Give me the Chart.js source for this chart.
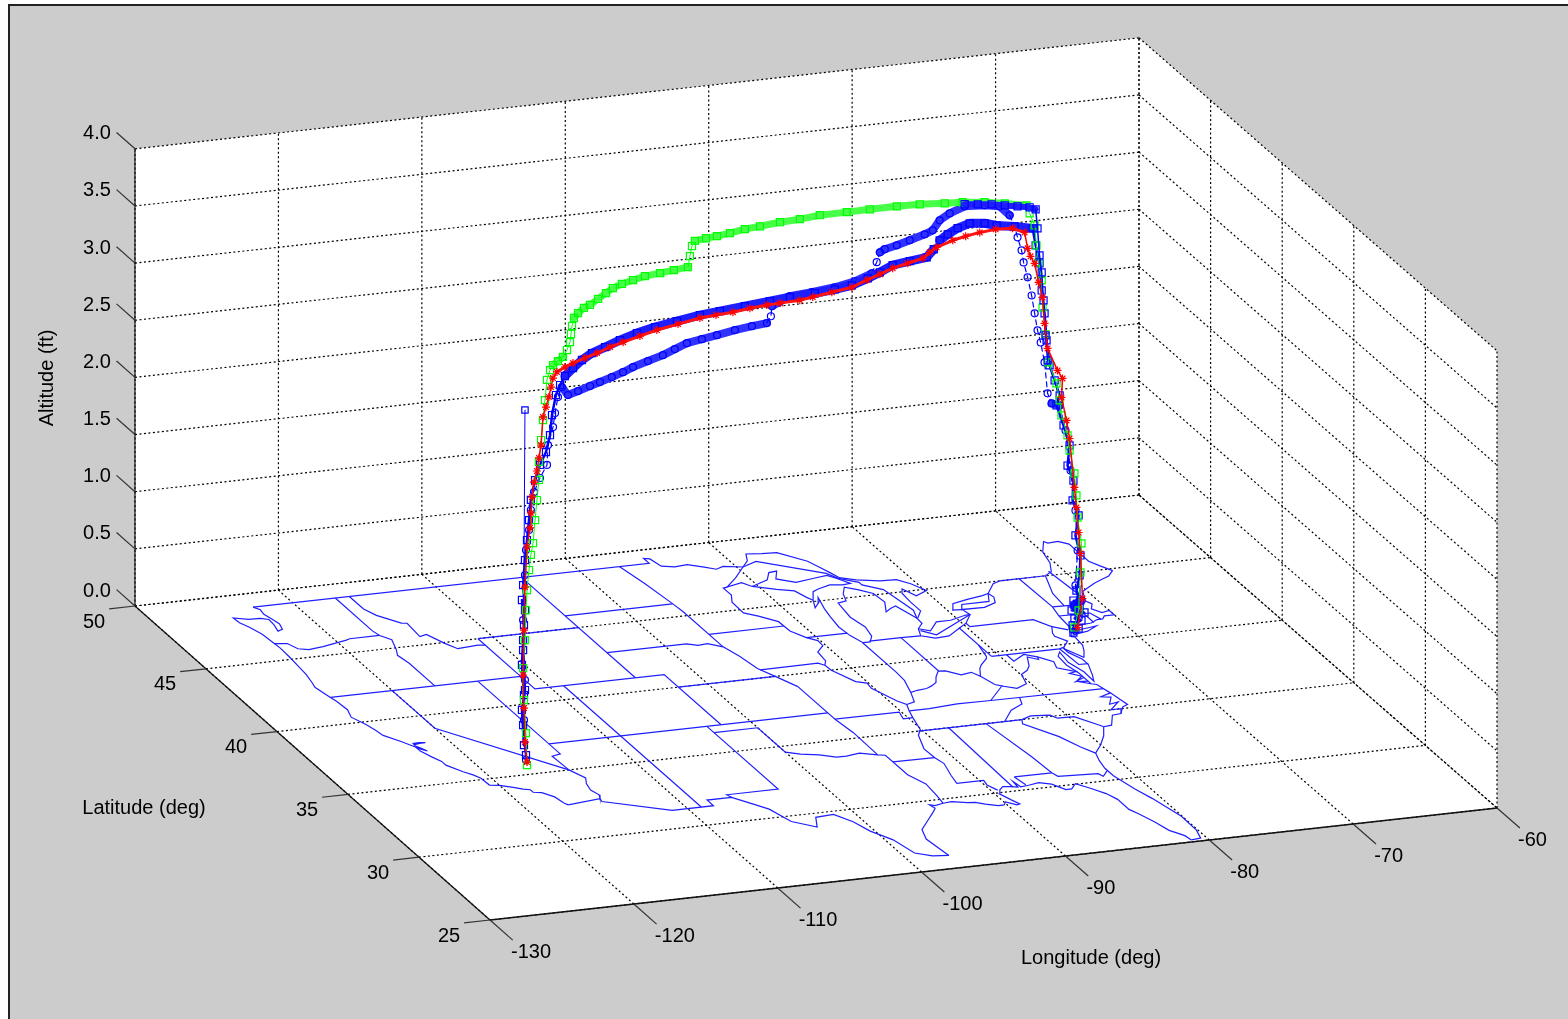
<!DOCTYPE html>
<html>
<head>
<meta charset="utf-8">
<title>Flight tracks</title>
<script src="https://cdn.jsdelivr.net/npm/chart.js@4/dist/chart.umd.js"></script>
<style>
  html, body { margin: 0; padding: 0; background: #fff; overflow: hidden; }
  #fig { position: absolute; left: 8px; top: 4px; width: 1560px; height: 1015px; background: #ccc;
         border-left: 2px solid #222; border-top: 2px solid #222; }
  #myChart { position: absolute; left: 0; top: 0; }
</style>
</head>
<body>
<div id="fig"></div>
<canvas id="myChart" width="1568" height="1019"></canvas>
<script>
// axis ticks
const lonTicks = [-130, -120, -110, -100, -90, -80, -70, -60];
const latTicks = [25, 30, 35, 40, 45, 50];
const altTicks = [0, 0.5, 1, 1.5, 2, 2.5, 3, 3.5, 4];

// flight tracks, [lon, lat, alt]
const greenTrack = [
  [-116.88,35.67,0],[-116.96,35.66,.282],[-117.12,35.64,.575],[-117.19,35.63,.857],[-117.04,35.65,1.098],
  [-116.96,35.66,1.358],[-116.88,35.67,1.531],[-116.72,35.69,1.702],[-116.57,35.71,1.83],[-116.41,35.72,1.93],
  [-116.25,35.74,2.127],[-116.1,35.76,2.298],[-115.94,35.78,2.469],[-115.94,35.78,2.627],[-115.78,35.79,2.815],
  [-115.63,35.81,2.986],[-115.47,35.83,3.156],[-115.31,35.85,3.328],[-115.08,35.87,3.408],[-114.84,35.9,3.446],
  [-114.45,35.95,3.47],[-114.06,35.99,3.496],[-113.74,36.03,3.548],[-113.51,36.05,3.612],[-113.43,36.06,3.68],
  [-113.35,36.07,3.748],[-113.2,36.09,3.814],[-112.88,36.12,3.849],[-112.41,36.18,3.881],[-111.94,36.23,3.895],
  [-111.31,36.3,3.931],[-110.69,36.37,3.966],[-110.14,36.44,3.995],[-109.43,36.52,4.012],[-108.57,36.61,4.024],
  [-107.63,36.72,4.034],[-106.45,36.85,4.029],[-105.36,36.98,4.026],[-104.26,37.1,4.023],[-104.1,37.12,4.115],
  [-103.94,37.14,4.199],[-103.71,37.17,4.237],[-102.85,37.26,4.239],[-101.98,37.36,4.234],[-100.96,37.48,4.233],
  [-99.79,37.61,4.238],[-98.61,37.74,4.232],[-97.04,37.92,4.226],[-95.48,38.1,4.211],[-93.91,38.28,4.204],
  [-91.79,38.52,4.175],[-89.99,38.72,4.153],[-87.87,38.96,4.123],[-86.07,39.17,4.093],[-84.11,39.39,4.05],
  [-82.7,39.55,4.022],[-80.97,39.75,3.976],[-79.4,39.92,3.925],[-77.68,40.12,3.862],[-77.44,40.15,3.786],
  [-77.05,40.19,3.671],[-76.9,40.21,3.491],[-76.74,40.23,3.339],[-76.5,40.25,3.175],[-76.43,40.26,2.937],
  [-76.19,40.29,2.694],[-75.96,40.32,2.443],[-75.33,40.39,2.243],[-75.09,40.41,2.088],[-74.94,40.43,1.952],
  [-74.47,40.48,1.765],[-74.31,40.5,1.629],[-73.92,40.55,1.418],[-73.76,40.57,1.221],[-73.68,40.57,1.026],
  [-73.37,40.61,.791],[-73.45,40.6,.539],[-73.6,40.58,.211],[-73.92,40.55,.07]
];
const redTrack = [
  [-116.88,35.67,.026],[-117.04,35.65,.206],[-117.12,35.64,.505],[-117.19,35.63,.795],[-117.12,35.64,1.187],
  [-117.04,35.65,1.562],[-116.88,35.67,1.908],[-116.64,35.7,2.068],[-116.57,35.71,2.197],[-116.49,35.71,2.335],
  [-116.33,35.73,2.461],[-116.1,35.76,2.552],[-115.94,35.78,2.662],[-115.78,35.79,2.771],[-115.63,35.81,3.012],
  [-115.39,35.84,3.093],[-115.16,35.87,3.175],[-115,35.88,3.258],[-114.84,35.9,3.332],[-114.53,35.94,3.377],
  [-113.9,36.01,3.404],[-113.27,36.08,3.422],[-112.33,36.19,3.441],[-111.39,36.29,3.46],[-110.37,36.41,3.485],
  [-109.35,36.52,3.502],[-108.02,36.68,3.519],[-106.69,36.83,3.537],[-105.04,37.01,3.546],[-103.32,37.21,3.553],
  [-102.06,37.35,3.546],[-100.73,37.5,3.536],[-99.4,37.65,3.536],[-98.06,37.81,3.527],[-97.04,37.92,3.518],
  [-95.48,38.1,3.502],[-94.46,38.22,3.502],[-92.97,38.38,3.506],[-91.4,38.56,3.508],[-90.22,38.7,3.539],
  [-89.2,38.81,3.564],[-88.19,38.93,3.589],[-87.01,39.06,3.602],[-85.83,39.19,3.615],[-85.28,39.26,3.652],
  [-84.74,39.32,3.681],[-83.48,39.46,3.71],[-82.46,39.58,3.718],[-81.36,39.7,3.723],[-80.11,39.84,3.717],
  [-78.78,40,3.69],[-77.84,40.1,3.63],[-77.6,40.13,3.484],[-77.37,40.16,3.408],[-77.05,40.19,3.338],
  [-76.74,40.23,3.164],[-76.43,40.26,3.024],[-76.27,40.28,2.792],[-76.03,40.31,2.567],[-75.25,40.4,2.354],
  [-74.86,40.44,2.274],[-74.94,40.43,2.11],[-74.54,40.48,1.898],[-74.31,40.5,1.734],[-73.92,40.55,1.295],
  [-73.76,40.57,1.116],[-73.6,40.58,.893],[-73.45,40.6,.705],[-73.29,40.62,.307],[-73.68,40.57,.064]
];
const blueSolidTrack = [
  [-116.96,35.66,.089],[-117.19,35.63,.358],[-117.12,35.64,.619],[-117.27,35.63,.886],[-117.19,35.63,1.102],
  [-117.04,35.65,1.361],[-117.19,35.63,1.583],[-117.04,35.65,1.798],[-116.88,35.67,1.969],[-116.72,35.69,2.139],
  [-116.57,35.71,2.311],[-116.25,35.74,2.477],[-115.86,35.79,2.598],[-115.39,35.84,2.699],[-115.08,35.87,2.839],
  [-114.92,35.89,3.011],[-114.61,35.93,3.177],[-114.29,35.96,3.257],[-113.9,36.01,3.325],[-113.27,36.08,3.378],
  [-112.57,36.16,3.43],[-111.78,36.25,3.47],[-110.76,36.36,3.496],[-109.59,36.5,3.525],[-108.26,36.65,3.552],
  [-106.84,36.81,3.567],[-105.12,37,3.574],[-103.32,37.21,3.579],[-101.75,37.39,3.572],[-99.79,37.61,3.564],
  [-97.83,37.83,3.556],[-96.26,38.01,3.549],[-94.3,38.23,3.532],[-92.73,38.41,3.525],[-91.4,38.56,3.525],
  [-90.15,38.7,3.553],[-89.2,38.81,3.581],[-88.19,38.93,3.616],[-86.85,39.08,3.616],[-85.52,39.23,3.615],
  [-84.97,39.29,3.671],[-84.5,39.35,3.736],[-83.87,39.42,3.772],[-83.09,39.51,3.805],[-82.15,39.61,3.823],
  [-80.97,39.75,3.792],[-80.04,39.85,3.749],[-78.62,40.01,3.703],[-77.21,40.17,3.649],[-76.97,40.2,3.494],
  [-76.66,40.24,3.328],[-76.5,40.25,3.087],[-76.27,40.28,2.88],[-76.11,40.3,2.64],[-75.88,40.32,2.415],
  [-75.48,40.37,2.273],[-75.09,40.41,2.132],[-75.33,40.39,2.05],[-74.78,40.45,1.86],[-74.31,40.5,1.673],
  [-74.47,40.48,1.502],[-74,40.54,1.358],[-74.07,40.53,1.186],[-73.6,40.58,1.042],[-73.84,40.56,.873],
  [-73.45,40.6,.688],[-73.52,40.59,.515],[-73.76,40.57,.389],[-73.45,40.6,.294],[-73.92,40.55,.263],
  [-73.6,40.58,.167],[-74,40.54,.063]
];
const blueDashTrack = [
  [-116.96,35.66,.046],[-117.12,35.64,.4],[-117.04,35.65,.748],[-117.19,35.63,1.277],[-117.04,35.65,1.667],
  [-116.96,35.66,1.883],[-116.72,35.69,2.052],[-116.57,35.71,2.223],[-116.33,35.73,2.374],[-115.86,35.79,2.484],
  [-115.31,35.85,2.584],[-115.23,35.86,2.756],[-114.84,35.9,2.903],[-114.68,35.92,3.022],[-114.45,35.95,3.155],
  [-114.14,35.98,3.235],[-113.67,36.03,3.153],[-112.88,36.12,3.167],[-111.94,36.23,3.186],[-111.16,36.32,3.2],
  [-110.22,36.43,3.218],[-109.35,36.52,3.239],[-108.57,36.61,3.263],[-107.39,36.75,3.284],[-106.22,36.88,3.305],
  [-105.28,36.99,3.333],[-104.34,37.09,3.36],[-103.16,37.23,3.364],[-101.98,37.36,3.368],[-100.57,37.52,3.375],
  [-99.24,37.67,3.374],[-98.06,37.81,3.37],[-97.75,37.84,3.422],[-97.67,37.85,3.508],[-96.26,38.01,3.558],
  [-94.54,38.21,3.547],[-92.73,38.41,3.543],[-91.16,38.59,3.554],[-89.83,38.74,3.589],[-89.44,38.79,3.675],
  [-89.2,38.81,3.756],[-88.81,38.86,3.772],[-87.87,38.96,3.782],[-86.85,39.08,3.799],[-85.68,39.21,3.82],
  [-85.05,39.28,3.839],[-84.5,39.35,3.911],[-83.72,39.43,3.952],[-82.54,39.57,3.982],[-80.97,39.75,3.95],
  [-79.8,39.88,3.91],[-79.01,39.97,3.81],[-78.62,40.01,3.703],[-78.39,40.04,3.601],[-78.07,40.08,3.479],
  [-77.92,40.09,3.37],[-77.6,40.13,3.231],[-77.29,40.16,3.064],[-77.05,40.19,2.901],[-76.82,40.22,2.746],
  [-76.58,40.24,2.634],[-76.27,40.28,2.451],[-76.03,40.31,2.174],[-75.72,40.34,2.078],[-75.09,40.41,2.044],
  [-74.62,40.47,1.812],[-74.23,40.51,1.453],[-73.84,40.56,1.092],[-73.68,40.57,.738],[-73.84,40.56,.436],
  [-73.52,40.59,.208],[-73.84,40.56,.042]
];
const blueTopTrack = [
  [-82.54,39.57,4],[-81.52,39.68,3.973],[-80.42,39.81,3.944],[-79.4,39.92,3.908],[-78.39,40.04,3.872],
  [-77.44,40.15,3.839],[-76.97,40.2,3.809],[-76.82,40.22,3.638],[-76.66,40.24,3.398],[-76.5,40.25,3.245],
  [-76.35,40.27,2.996],[-76.19,40.29,2.685],[-76.03,40.31,2.462]
];
const blueSpike = [[-117.04,35.65,3.111],[-117.12,35.64,1.712]];
const blueWestLow = [[-117.12,35.64,.181],[-117.27,35.63,.492],[-117.04,35.65,.661],[-117.19,35.63,1.014],[-117.12,35.64,1.231],[-117.27,35.63,1.454]];
const blueEastLow = [[-74,40.54,.308],[-73.52,40.59,.252],[-74.15,40.52,.225],[-73.13,40.64,.18],[-73.92,40.55,.149],[-73.37,40.61,.117],[-74.07,40.53,.092],[-73.6,40.58,.053],[-74,40.54,.028]];

// map outlines, [lon, lat]
const westCoast = [[-122.76,49],[-122.5,48.75],[-122.6,48.4],[-122.4,47.9],[-122.3,47.6],[-122.5,47.2],[-122.9,47.1],[-122.7,47.6],[-122.65,48],[-123.1,48.15],[-123.9,48.17],[-124.75,48.38],[-124.7,48],[-124.4,47.6],[-124.1,47],[-124,46.3],[-123.95,45.9],[-124,45.2],[-124.1,44.5],[-124.2,43.8],[-124.4,43.2],[-124.55,42.84],[-124.3,42],[-124.2,41.7],[-124.1,41],[-124.4,40.44],[-124,39.8],[-123.8,39.3],[-123.7,38.9],[-123,38.3],[-122.5,37.8],[-122.5,37.5],[-122.2,37],[-121.9,36.6],[-121.9,36.3],[-121.3,35.7],[-120.9,35.4],[-120.65,35.1],[-120.6,34.55],[-120,34.45],[-119.3,34.2],[-118.8,34],[-118.4,33.9],[-118.4,33.7],[-117.9,33.6],[-117.4,33.2],[-117.25,32.7],[-117.12,32.53]];
const sfBay = [[-122.48,37.82],[-122.4,38],[-122,38.05],[-121.6,38.05],[-122,38.1],[-122.4,38.1],[-122.45,37.9],[-122.3,37.75],[-122.05,37.45],[-122.3,37.6],[-122.5,37.75]];
const mexicoBorder = [[-117.12,32.53],[-114.72,32.72],[-114.8,32.5],[-111.07,31.33],[-108.2,31.33],[-108.2,31.78],[-106.5,31.78],[-105.6,31.1],[-105,30.65],[-104.5,29.6],[-103.3,29],[-102.7,29.7],[-101.4,29.77],[-100.7,29.1],[-100.3,28.3],[-99.5,27.5],[-99.1,26.4],[-98.2,26.05],[-97.15,25.96]];
const gulfCoast = [[-97.15,25.96],[-97.4,27.3],[-97,28],[-96,28.6],[-95,29.2],[-94.7,29.4],[-94.8,29.7],[-94.5,29.6],[-93.85,29.7],[-93.2,29.75],[-92.3,29.55],[-91.8,29.5],[-91.3,29.3],[-90.6,29.1],[-90.2,29.1],[-89.9,29.3],[-89.4,29],[-89.15,29.05],[-89.4,29.4],[-89.7,29.9],[-89.4,30.2],[-89,30.4],[-88.5,30.35],[-88.1,30.25],[-88,30.7],[-87.9,30.25],[-87.3,30.3],[-86.5,30.4],[-85.8,30.2],[-85.3,29.7],[-84.9,29.7],[-84.3,30.05],[-83.7,29.6],[-83.1,29.1],[-82.8,28.6],[-82.8,27.8],[-82.5,27.4],[-82.1,26.7],[-81.8,26],[-81.2,25.5],[-81.1,25.15]];
const eastCoast = [[-81.1,25.15],[-80.4,25.2],[-80.1,25.8],[-80.05,26.9],[-80.6,28.4],[-81,29.2],[-81.4,30.3],[-81.4,30.9],[-81.2,31.5],[-80.9,32.05],[-80,32.6],[-79.2,33.2],[-78.55,33.85],[-77.95,33.9],[-77.2,34.6],[-76.55,34.65],[-76,35.1],[-75.5,35.25],[-75.75,36.2],[-76,36.9],[-76.3,37],[-76.3,37.9],[-76.5,38.5],[-76.4,39.2],[-76,39.5],[-76.2,38.7],[-75.9,37.9],[-75.95,37.15],[-75.6,37.6],[-75.1,38.4],[-75.1,38.8],[-75.5,39.4],[-75.5,39.7],[-75.1,39.2],[-74.9,38.95],[-74.4,39.4],[-74.1,39.8],[-74,40.45],[-74.2,40.5],[-74,40.7],[-73.75,40.85],[-72.9,41.25],[-72,41.3],[-71.4,41.5],[-71,41.5],[-70.7,41.7],[-70,41.7],[-70,42.05],[-70.6,41.95],[-71,42.3],[-70.6,42.65],[-70.8,42.9],[-70.3,43.6],[-69.8,43.8],[-69,44.1],[-68.3,44.3],[-67.6,44.5],[-66.98,44.85]];
const longIsland = [[-74,40.6],[-72.8,40.75],[-71.9,41.05],[-72.6,40.98],[-73.7,40.88],[-74,40.7]];
const pamlicoSound = [[-75.75,36.2],[-76.6,36],[-76,35.9],[-76.6,35.4],[-75.9,35.5],[-76.9,35],[-76.2,35],[-76.55,34.65]];
const jamesRiver = [[-76.3,37],[-76.9,37.25],[-76.3,37.2]];
const yorkRiver = [[-76.3,37.5],[-77,37.3],[-76.35,37.6],[-76.9,37.9],[-76.3,38]];
const maineBorder = [[-66.98,44.85],[-67.45,45.3],[-67.8,45.7],[-67.8,47.07],[-68.3,47.35],[-69.05,47.3],[-69.2,47.45],[-70,46.7],[-70.3,45.9],[-70.85,45.25],[-71.5,45.01],[-74.7,45]];
const northBorder = [[-122.76,49],[-95.15,49],[-95.15,49.38],[-94.8,49.3],[-94.6,48.7],[-93.8,48.55],[-92.9,48.6],[-92,48.3],[-91.4,48.05],[-90.8,48.2],[-89.6,48]];
const lakeShore = [[-89.6,48],[-90.8,47.3],[-92,46.7],[-90.8,46.9],[-90.4,46.55],[-89,46.9],[-88.4,47.4],[-87.8,47.45],[-88.4,46.9],[-87.4,46.5],[-86,46.65],[-85,46.75],[-84.6,46.45],[-84.1,46],[-84.7,45.95],[-85.5,46.05],[-86.5,45.85],[-87,45.7],[-87.6,45.1],[-88,44.55],[-87.4,44.9],[-87.1,45.25],[-87.5,44.4],[-87.7,43.8],[-87.9,43],[-87.8,42.3],[-87.5,41.7],[-87,41.7],[-86.5,42.1],[-86.25,42.8],[-86.5,43.6],[-86.25,44.7],[-85.6,44.8],[-85.3,45.3],[-84.75,45.78],[-84.1,45.5],[-83.4,45.1],[-83.3,44.4],[-83.9,43.7],[-83.4,43.9],[-82.9,44.05],[-82.45,43],[-82.5,42.6],[-83.1,42.25],[-83.45,41.73],[-82.7,41.45],[-81.7,41.5],[-80.5,41.98],[-79.76,42.27],[-78.9,42.85],[-79.05,43.27],[-77.5,43.25],[-76.5,43.5],[-76.2,43.9],[-76.3,44.2],[-75.3,44.85],[-74.7,45]];
const superiorNorth = [[-89.6,48],[-88.9,48.4],[-88.5,48.9],[-87.5,48.8],[-86.5,48.75],[-85.2,47.9],[-84.9,47.4],[-84.6,46.9],[-84.4,46.5]];
const huronNorth = [[-84.4,46.5],[-83.5,46.2],[-82.1,45.95],[-81,45.9],[-80.4,45.5],[-79.9,44.9],[-80.9,44.6],[-81.3,45.2],[-81.6,44.9],[-81.7,44.2],[-81.7,43.5],[-82.4,43]];
const erieNorth = [[-83.1,42.25],[-82.5,42],[-81.5,42.6],[-80.5,42.6],[-79.2,42.85],[-78.9,42.85]];
const ontarioNorth = [[-79.05,43.27],[-79.7,43.3],[-79.2,43.75],[-78,43.95],[-76.8,44.1],[-76.3,44.2]];
const lakeBorder = [[-89.6,48],[-88.4,48.3],[-84.9,46.9],[-84.5,46.45],[-83.5,46],[-83.5,45.8],[-82.5,45.3],[-82.1,43.6],[-82.45,43]];
const erieBorder = [[-83.1,42.1],[-82.4,41.68],[-78.9,42.85]];
const ontarioBorder = [[-79.05,43.27],[-78.7,43.63],[-76.8,43.63],[-76.3,44.2]];
const columbiaRiver = [[-124,46.25],[-123.2,46.15],[-122.9,45.7],[-122.3,45.55],[-121.2,45.65],[-119.3,45.93],[-119,46],[-116.92,46]];
const waIdaho = [[-117.03,49],[-117.04,46.4],[-116.92,46],[-116.46,45.6],[-116.85,44.9],[-117.2,44.45],[-117.03,43.8],[-117.03,42]];
const idahoMontana = [[-116.05,49],[-116.05,48],[-115.7,47.45],[-114.7,46.7],[-114.35,46.65],[-114.5,45.6],[-113.95,45.7],[-113.45,44.95],[-113,44.45],[-111.5,44.55],[-111.05,44.48]];
const line42 = [[-124.3,42],[-111.05,42],[-111.05,41],[-102.05,41],[-102.05,37]];
const montanaSouth = [[-111.05,45],[-104.05,45]];
const wyomingWest = [[-111.05,45],[-111.05,42]];
const line104 = [[-104.05,49],[-104.05,41]];
const caNevada = [[-120,42],[-120,39],[-114.63,35]];
const caArizona = [[-114.63,35],[-114.15,34.3],[-114.5,33.9],[-114.7,33.4],[-114.5,33],[-114.72,32.72]];
const nevadaUtah = [[-114.04,42],[-114.04,36.2],[-114.7,36.1],[-114.63,35]];
const line37 = [[-114.04,37],[-94.62,37]];
const line109 = [[-109.05,41],[-109.05,31.33]];
const newMexicoEast = [[-103.04,37],[-103.04,32],[-106.62,32],[-106.5,31.78]];
const panhandle = [[-103.04,36.5],[-100,36.5],[-100,34.56],[-99.2,34.3],[-98.1,34.1],[-97.2,33.8],[-96.5,33.8],[-95.5,33.9],[-94.48,33.64],[-94.04,33.55],[-94.04,31.99],[-93.55,31.2],[-93.7,30.3],[-93.85,29.7]];
const oklahomaEast = [[-94.62,36.5],[-94.43,35.4],[-94.48,33.64]];
const kansasEast = [[-94.62,39.1],[-94.62,36.5],[-90.15,36.5],[-90.37,35.99],[-89.7,36]];
const arkansasSouth = [[-94.04,33.02],[-91.17,33]];
const mississippiRiver = [[-89.55,30.2],[-89.85,30.65],[-89.73,31],[-91.6,31],[-91.4,31.6],[-91,32.5],[-91.17,33],[-91.2,33.7],[-90.6,34.7],[-90.07,35.1],[-89.7,36],[-89.45,36.5],[-89.15,36.98],[-89.5,37.3],[-90.2,38.4],[-90.1,38.8],[-90.7,39],[-91.4,40],[-91.45,40.4],[-91.1,40.7],[-90.95,41.4],[-90.2,41.8],[-90.15,42.2],[-90.65,42.5],[-91.2,43.1],[-91.25,43.85],[-92.1,44.4],[-92.8,44.75],[-92.75,45.6],[-92.3,46.1],[-92.3,46.66],[-92,46.7]];
const redRiverNorth = [[-97.23,49],[-96.85,47.6],[-96.55,46],[-96.45,45.3],[-96.45,42.5],[-96.1,41.7],[-95.85,40.7],[-95.3,40],[-94.62,39.1]];
const southDakotaSouth = [[-104.05,43],[-98.5,43],[-97.9,42.8],[-97.2,42.85],[-96.45,42.5]];
const iowaNorth = [[-96.45,43.5],[-91.22,43.5]];
const northDakotaSouth = [[-104.05,45.94],[-96.56,45.94]];
const kansasNorth = [[-102.05,40],[-95.3,40]];
const iowaSouth = [[-95.77,40.58],[-91.73,40.6],[-91.45,40.4]];
const wisconsinMichigan = [[-90.4,46.55],[-89.1,46.15],[-88.1,45.9],[-87.8,45.35],[-87.6,45.1]];
const illinoisNorth = [[-90.65,42.5],[-87.8,42.5]];
const illinoisIndiana = [[-87.53,41.7],[-87.53,39.35],[-87.6,38.7],[-88.05,37.8]];
const ohioRiver = [[-89.15,36.98],[-88.5,37.1],[-88.05,37.8],[-87.5,37.9],[-86.8,37.95],[-86.3,38.1],[-85.8,38.3],[-85.4,38.7],[-84.85,39.1],[-84.4,39.05],[-83.7,38.65],[-82.9,38.75],[-82.6,38.4],[-82.1,38.95],[-81.75,39.2],[-81,39.6],[-80.85,39.75],[-80.52,40.64]];
const indianaOhio = [[-84.82,39.1],[-84.8,41.76]];
const michiganSouth = [[-87,41.76],[-84.8,41.76],[-83.45,41.73]];
const ohioPenn = [[-80.52,42],[-80.52,39.72]];
const masonDixon = [[-80.52,39.72],[-75.79,39.72],[-75.4,39.8]];
const pennNewYork = [[-79.76,42.27],[-79.76,42],[-75.35,42],[-74.7,41.35],[-75.1,40.9],[-75.2,40.65],[-74.75,40.2],[-75.4,39.8],[-75.55,39.6]];
const newYorkJersey = [[-74.7,41.35],[-73.9,41]];
const newYorkEast = [[-73.65,41],[-73.5,42.05],[-73.26,42.75],[-73.35,45]];
const connecticutNorth = [[-73.5,42.05],[-71.8,42.02]];
const rhodeIsland = [[-71.8,41.32],[-71.8,42.02],[-71.38,42.02],[-71.13,41.5]];
const massNorth = [[-73.26,42.75],[-71.3,42.7],[-70.82,42.87]];
const vermontEast = [[-72.46,42.73],[-72.3,43.7],[-71.5,45.01]];
const maineWest = [[-70.7,43.08],[-71,45.3]];
const tennesseeNorth = [[-89.45,36.5],[-88.05,36.5],[-86,36.62],[-83.68,36.6],[-75.87,36.55]];
const tennesseeEast = [[-81.68,36.59],[-82,36.1],[-83.1,35.75],[-84.32,34.99]];
const tennesseeSouth = [[-90.3,35],[-84.32,34.99],[-83.1,35]];
const alabamaWest = [[-88.2,35],[-88.4,30.3]];
const alabamaEast = [[-85.6,35],[-85.1,32.3],[-85,31],[-84.86,30.7],[-82.2,30.57],[-82.05,30.35],[-81.45,30.7]];
const floridaWest = [[-87.6,31],[-85,31]];
const floridaNote = [[-87.6,31],[-87.45,30.35]];
const savannahRiver = [[-83.1,35],[-83.35,34.7],[-82,33.5],[-81.4,32.6],[-80.9,32.05]];
const carolinaLine = [[-83.1,35],[-82.3,35.2],[-81.05,35.1],[-80.8,34.82],[-79.67,34.8],[-78.55,33.87]];
const kentuckyEast = [[-82.6,38.4],[-82.3,37.7],[-81.97,37.54],[-83.68,36.6]];
const virginiaWest = [[-81.97,37.54],[-81.2,37.25],[-80.3,37.5],[-79.95,38.2],[-79.3,38.45],[-78.87,38.75],[-78.35,39.4],[-77.83,39.13],[-77.72,39.32]];
const potomacRiver = [[-79.48,39.72],[-79.48,39.2],[-78.4,39.6],[-77.72,39.32],[-77.05,38.85],[-77.3,38.4],[-76.3,37.95]];
const delaware = [[-75.79,39.72],[-75.7,38.46],[-75.05,38.45]];

const mapLines = [westCoast, sfBay, mexicoBorder, gulfCoast, eastCoast, longIsland, pamlicoSound, jamesRiver, yorkRiver, maineBorder, northBorder, lakeShore, superiorNorth, huronNorth, erieNorth, ontarioNorth, lakeBorder, erieBorder, ontarioBorder, columbiaRiver, waIdaho, idahoMontana, line42, montanaSouth, wyomingWest, line104, caNevada, caArizona, nevadaUtah, line37, line109, newMexicoEast, panhandle, oklahomaEast, kansasEast, arkansasSouth, mississippiRiver, redRiverNorth, southDakotaSouth, iowaNorth, northDakotaSouth, kansasNorth, iowaSouth, wisconsinMichigan, illinoisNorth, illinoisIndiana, ohioRiver, indianaOhio, michiganSouth, ohioPenn, masonDixon, pennNewYork, newYorkJersey, newYorkEast, connecticutNorth, rhodeIsland, massNorth, vermontEast, maineWest, tennesseeNorth, tennesseeEast, tennesseeSouth, alabamaWest, alabamaEast, floridaWest, floridaNote, savannahRiver, carolinaLine, kentuckyEast, virginiaWest, potomacRiver, delaware];

// the view of the 3d box: where the floor corners land and how tall one altitude unit is
const frontLeft = [490, 920], frontRight = [1497, 808], backLeft = [135, 606], backRight = [1139, 495];
const altUnit = 114.3;

const project = (lon, lat, alt) => {
    const u = (lon + 130) / 70;
    const v = (lat - 25) / 25;
    const at = (i) => frontLeft[i] + u * (frontRight[i] - frontLeft[i]) + v * (backLeft[i] - frontLeft[i])
        + u * v * (backRight[i] - backLeft[i] - frontRight[i] + frontLeft[i]);
    return { x: at(0), y: at(1) - alt * altUnit };
};

const isFlat = (c) => Math.abs(c.p1.parsed.x - c.p0.parsed.x) * 1.5 > Math.abs(c.p1.parsed.y - c.p0.parsed.y);

const trackSet = (track, color, ribbonColor, style, radius, ribbon, climb, dashed) => ({
    data: track.map((p) => project(p[0], p[1], p[2])),
    showLine: true,
    borderColor: color,
    pointBorderColor: color,
    pointBackgroundColor: 'rgba(0,0,0,0)',
    pointStyle: style,
    pointRadius: radius,
    pointBorderWidth: 1.2,
    borderWidth: climb,
    borderCapStyle: 'round',
    borderJoinStyle: 'round',
    clip: false,
    segment: {
        // cruise parts are a solid ribbon of overlapping marks
        borderWidth: (c) => isFlat(c) ? ribbon : climb,
        borderColor: (c) => isFlat(c) ? ribbonColor : color,
        borderDash: (c) => dashed && !isFlat(c) ? [5, 4] : []
    }
});

const box3d = {
    id: 'box3d',
    beforeDatasetsDraw(chart) {
        const ctx = chart.ctx;
        const sx = chart.scales.x, sy = chart.scales.y;
        const pt = (lon, lat, alt) => {
            const p = project(lon, lat, alt);
            return [sx.getPixelForValue(p.x), sy.getPixelForValue(p.y)];
        };
        const path = (a, b) => {
            ctx.beginPath();
            ctx.moveTo(a[0], a[1]);
            ctx.lineTo(b[0], b[1]);
            ctx.stroke();
        };
        const fillPoly = (list) => {
            ctx.beginPath();
            list.forEach((p, i) => i ? ctx.lineTo(p[0], p[1]) : ctx.moveTo(p[0], p[1]));
            ctx.closePath();
            ctx.fill();
        };
        ctx.save();
        ctx.fillStyle = '#fff';
        fillPoly([pt(-130,25,0), pt(-60,25,0), pt(-60,50,0), pt(-130,50,0)]);
        fillPoly([pt(-130,50,0), pt(-60,50,0), pt(-60,50,4), pt(-130,50,4)]);
        fillPoly([pt(-60,50,0), pt(-60,25,0), pt(-60,25,4), pt(-60,50,4)]);

        // dotted grid
        ctx.strokeStyle = '#000';
        ctx.lineWidth = 1.2;
        ctx.setLineDash([2, 2.5]);
        lonTicks.forEach((lon) => {
            path(pt(lon,25,0), pt(lon,50,0));
            path(pt(lon,50,0), pt(lon,50,4));
        });
        latTicks.forEach((lat) => {
            path(pt(-130,lat,0), pt(-60,lat,0));
            path(pt(-60,lat,0), pt(-60,lat,4));
        });
        altTicks.forEach((alt) => {
            path(pt(-130,50,alt), pt(-60,50,alt));
            path(pt(-60,50,alt), pt(-60,25,alt));
        });
        ctx.setLineDash([]);

        // solid edges and tick marks
        ctx.strokeStyle = '#111';
        ctx.lineWidth = 1.6;
        path(pt(-130,25,0), pt(-60,25,0));
        ctx.lineWidth = 1.2;
        path(pt(-130,25,0), pt(-130,50,0));
        path(pt(-130,50,0), pt(-130,50,4));
        ctx.strokeStyle = '#333';
        lonTicks.forEach((lon) => path(pt(lon,25,0), pt(lon,23.4,0)));
        latTicks.forEach((lat) => path(pt(-130,lat,0), pt(-131.8,lat,0)));
        altTicks.forEach((alt) => path(pt(-130,50,alt), pt(-130,51.3,alt)));

        // tick labels and axis titles
        ctx.fillStyle = '#000';
        ctx.font = '20px "Liberation Sans"';
        ctx.textBaseline = 'middle';
        ctx.textAlign = 'left';
        lonTicks.forEach((lon) => {
            const p = pt(lon,25,0);
            ctx.fillText(String(lon), p[0] + 21, p[1] + 32);
        });
        ctx.textAlign = 'center';
        latTicks.forEach((lat) => {
            const p = pt(-130,lat,0);
            ctx.fillText(String(lat), p[0] - 41, p[1] + 16);
        });
        altTicks.forEach((alt) => {
            const p = pt(-130,50,alt);
            ctx.fillText(alt.toFixed(1), p[0] - 38, p[1] - 15);
        });
        ctx.fillText('Latitude (deg)', 144, 808);
        ctx.fillText('Longitude (deg)', 1091, 958);
        ctx.translate(47, 378);
        ctx.rotate(-Math.PI / 2);
        ctx.fillText('Altitude (ft)', 0, 0);
        ctx.restore();
    }
};

const blue = 'rgb(0,0,255)';
const datasets = [
    trackSet(redTrack, 'rgb(255,0,0)', 'rgb(255,20,20)', 'star', 4, 3, 1.5, false),
    trackSet(blueTopTrack, blue, 'rgb(30,30,255)', 'rect', 5, 6, 1.5, false),
    trackSet(greenTrack, 'rgb(0,255,0)', 'rgb(70,255,70)', 'rect', 5, 7, 1, false),
    trackSet(blueSpike, blue, blue, 'rect', [4.5, 0], 1, 1, false),
    trackSet(blueWestLow, blue, blue, 'rect', 5, 1, 2.5, false),
    trackSet(blueEastLow, blue, blue, 'rect', 5, 2, 2, false),
    trackSet(blueSolidTrack, blue, 'rgb(30,30,255)', 'rect', 5, 9, 2.5, false),
    trackSet(blueDashTrack, blue, 'rgb(50,50,255)', 'circle', 3.5, 8, 1.2, true)
];
mapLines.forEach((line) => {
    datasets.push({
        data: line.map((p) => project(p[0], p[1], 0)),
        showLine: true,
        borderColor: 'rgb(30,30,255)',
        borderWidth: 1.2,
        pointRadius: 0,
        clip: false
    });
});

const ctx = document.getElementById('myChart').getContext('2d');
const myChart = new Chart(ctx, {
    type: 'scatter',
    data: { datasets: datasets },
    options: {
        responsive: false,
        animation: false,
        events: [],
        layout: { padding: 0, autoPadding: false },
        plugins: { legend: { display: false }, tooltip: { enabled: false } },
        scales: {
            x: { type: 'linear', min: 0, max: 1568, display: false },
            y: { type: 'linear', min: 0, max: 1019, reverse: true, display: false }
        }
    },
    plugins: [box3d]
});
</script>
</body>
</html>
